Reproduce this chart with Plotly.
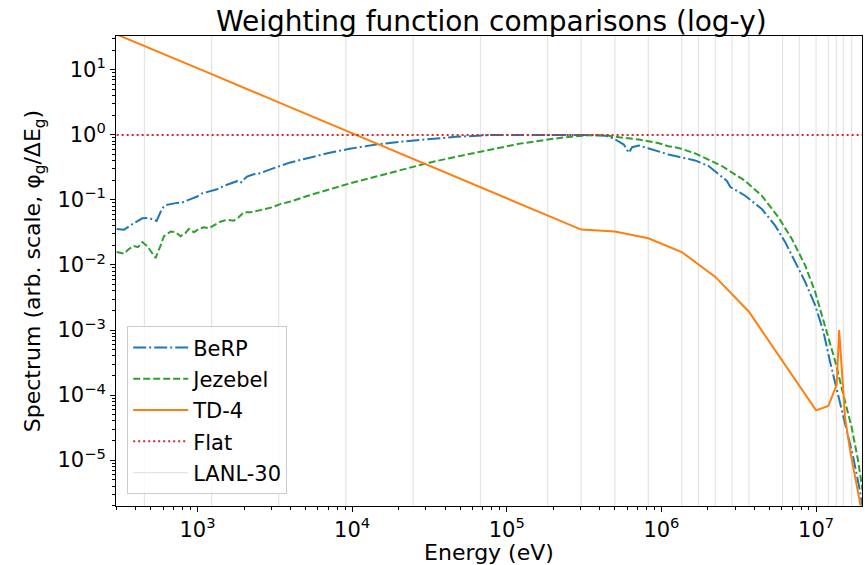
import plotly.graph_objects as go

# ---------------- data ----------------
berp_E = [300, 335, 389, 440, 486, 523, 544, 591, 622, 722, 796, 902, 994, 1071, 1213,
          1338, 1478, 1715, 1800, 1893, 2089, 2307, 2548, 2955, 3428, 3937, 5305, 7146,
          9620, 14300, 21200, 31500, 46900, 76900, 2.17e5, 3.40e5, 4.35e5, 4.92e5, 5.71e5,
          6.15e5, 6.46e5, 7.14e5, 8.28e5, 9.61e5, 1.11e6, 1.29e6, 1.65e6, 2.02e6, 2.65e6,
          2.79e6, 3.48e6, 4.46e6, 5.44e6, 6.31e6, 7.32e6, 8.50e6, 9.86e6, 1.115e7, 1.23e7,
          1.39e7, 1.57e7, 1.74e7, 1.92e7, 2.0e7]
berp_v = [0.0358, 0.0349, 0.0442, 0.0522, 0.0527, 0.0497, 0.0475, 0.0742, 0.0833, 0.0893,
          0.0916, 0.103, 0.113, 0.126, 0.136, 0.146, 0.164, 0.189, 0.194, 0.182, 0.229,
          0.248, 0.257, 0.295, 0.332, 0.374, 0.446, 0.531, 0.611, 0.711, 0.791, 0.869,
          0.932, 0.995, 1.0, 0.995, 0.966, 0.879, 0.711, 0.531, 0.647, 0.687, 0.618, 0.550,
          0.500, 0.461, 0.405, 0.332, 0.196, 0.158, 0.116, 0.0724, 0.0403, 0.0225, 0.0111,
          0.0055, 0.00242, 9.5e-4, 3.3e-4, 1.02e-4, 3.17e-5, 1.10e-5, 3.42e-6, 1.9e-6]

jez_E = [300, 335, 361, 389, 412, 440, 473, 502, 536, 577, 607, 670, 722, 777, 837, 879,
         947, 1019, 1098, 1183, 1274, 1407, 1553, 1715, 1847, 1989, 2198, 2426, 2679, 3030,
         3428, 3937, 5305, 7146, 9620, 14300, 21200, 31500, 46900, 66200, 89100, 1.20e5,
         1.78e5, 2.40e5, 3.40e5, 4.35e5, 5.31e5, 7.14e5, 9.61e5, 1.11e6, 1.29e6, 1.65e6,
         2.46e6, 3.48e6, 4.46e6, 5.71e6, 6.97e6, 8.50e6, 9.86e6, 1.14e7, 1.33e7, 1.50e7,
         1.70e7, 1.87e7, 2.0e7]
jez_v = [0.0158, 0.0149, 0.0177, 0.0195, 0.0188, 0.0225, 0.0195, 0.0158, 0.0128, 0.0199,
         0.0277, 0.0326, 0.0319, 0.0277, 0.0311, 0.0358, 0.0319, 0.0358, 0.0380, 0.0367,
         0.0403, 0.0463, 0.0497, 0.0480, 0.0541, 0.0645, 0.0645, 0.0682, 0.0724, 0.0768,
         0.0863, 0.0935, 0.118, 0.146, 0.179, 0.229, 0.295, 0.374, 0.461, 0.550, 0.634,
         0.729, 0.839, 0.919, 0.986, 0.986, 0.919, 0.848, 0.745, 0.670, 0.63, 0.519, 0.332,
         0.196, 0.116, 0.0541, 0.0252, 0.00986, 0.00387, 0.0012, 3.3e-4, 1.02e-4, 3.17e-5,
         9.8e-6, 3.4e-6]

td4_E = [300, 454, 1235, 3350, 9120, 24800, 67600, 1.84e5, 3.03e5, 5.0e5, 8.23e5, 1.353e6,
         2.232e6, 3.68e6, 1.0e7, 1.2e7, 1.29e7, 1.36e7, 1.41e7, 1.46e7, 1.54e7, 1.66e7, 1.94e7]
td4_v = [35.0, 23.3, 8.6, 3.16, 1.16, 0.427, 0.157, 0.0576, 0.035, 0.0326, 0.0258, 0.0158,
         0.00656, 0.00191, 5.82e-5, 6.79e-5, 1.08e-4, 1.45e-4, 1.0e-3, 2.61e-4, 4.5e-5,
         1.4e-5, 2.0e-6]

flat_E = [300, 2.0e7]
flat_v = [1.0, 1.0]

lanl30_bounds = [1.39e-4, 0.152, 0.414, 1.13, 3.06, 8.32, 22.6, 61.4, 167, 454, 1235, 3350,
                 9120, 24800, 67600, 1.84e5, 3.03e5, 5.0e5, 8.23e5, 1.353e6, 1.738e6,
                 2.232e6, 2.865e6, 3.68e6, 6.07e6, 7.79e6, 1.0e7, 1.2e7, 1.35e7, 1.5e7, 1.7e7]

x_tick_vals = [1e3, 1e4, 1e5, 1e6, 1e7]
x_tick_text = ["10<sup>3</sup>", "10<sup>4</sup>", "10<sup>5</sup>", "10<sup>6</sup>",
               "10<sup>7</sup>"]
y_tick_vals = [1e-5, 1e-4, 1e-3, 1e-2, 1e-1, 1e0, 1e1]
y_tick_text = ["10<sup>\u22125</sup>", "10<sup>\u22124</sup>", "10<sup>\u22123</sup>",
               "10<sup>\u22122</sup>", "10<sup>\u22121</sup>", "10<sup>0</sup>",
               "10<sup>1</sup>"]

# ---------------- figure ----------------
fig = go.Figure()

gx, gy = [], []
for b in lanl30_bounds:
    gx += [b, b, None]
    gy += [1e-8, 1e4, None]
fig.add_trace(go.Scatter(x=gx, y=gy, mode="lines", name="LANL-30", legendrank=5,
                         legendgroup="g5",
                         line=dict(color="rgb(228,228,228)", width=1.2)))

fig.add_trace(go.Scatter(x=berp_E, y=berp_v, mode="lines", name="BeRP", legendrank=1,
                         legendgroup="g1",
                         line=dict(color="#1f77b4", width=2, dash="13px,3px,2px,3px")))
fig.add_trace(go.Scatter(x=jez_E, y=jez_v, mode="lines", name="Jezebel", legendrank=2,
                         legendgroup="g2",
                         line=dict(color="#2ca02c", width=2, dash="7px,3px")))
fig.add_trace(go.Scatter(x=td4_E, y=td4_v, mode="lines", name="TD-4", legendrank=3,
                         legendgroup="g3",
                         line=dict(color="#ff7f0e", width=2)))
fig.add_trace(go.Scatter(x=flat_E, y=flat_v, mode="lines", name="Flat", legendrank=4,
                         legendgroup="g4",
                         line=dict(color="#d62728", width=2, dash="2px,3px")))

font = "DejaVu Sans"
fig.update_layout(
    width=865, height=565,
    margin=dict(l=116, r=2, t=36, b=56),
    plot_bgcolor="white", paper_bgcolor="white",
    font=dict(family=font, color="black", size=20),
    title=dict(text="Weighting function comparisons (log-y)", x=0.568, xanchor="center",
               y=0.963, yanchor="middle", font=dict(size=28, family=font)),
    showlegend=True,
    legend=dict(x=0.015, y=0.025, xanchor="left", yanchor="bottom",
                bgcolor="rgba(255,255,255,0.8)", bordercolor="#cccccc", borderwidth=1,
                font=dict(size=21, family=font), tracegroupgap=1,
                traceorder="grouped", itemwidth=55),
)
fig.update_xaxes(
    type="log", range=[2.473, 7.297], showgrid=False, zeroline=False,
    showline=True, linecolor="black", linewidth=1, mirror=True,
    ticks="outside", ticklen=5, tickcolor="black",
    tickmode="array", tickvals=x_tick_vals, ticktext=x_tick_text,
    tickfont=dict(size=21),
    minor=dict(ticks="outside", ticklen=3, tickcolor="black", dtick="D1", showgrid=False),
    title=dict(text="Energy (eV)", font=dict(size=22), standoff=5),
)
fig.update_yaxes(
    type="log", range=[-5.705, 1.52], showgrid=False, zeroline=False,
    showline=True, linecolor="black", linewidth=1, mirror=True,
    ticks="outside", ticklen=5, tickcolor="black",
    tickmode="array", tickvals=y_tick_vals, ticktext=y_tick_text,
    tickfont=dict(size=21),
    minor=dict(ticks="outside", ticklen=3, tickcolor="black", dtick="D1", showgrid=False),
    title=dict(text="Spectrum (arb. scale, φ<sub>g</sub>/ΔE<sub>g</sub>)",
               font=dict(size=22), standoff=10),
)

fig.write_html("out.html", config={"displayModeBar": False})
